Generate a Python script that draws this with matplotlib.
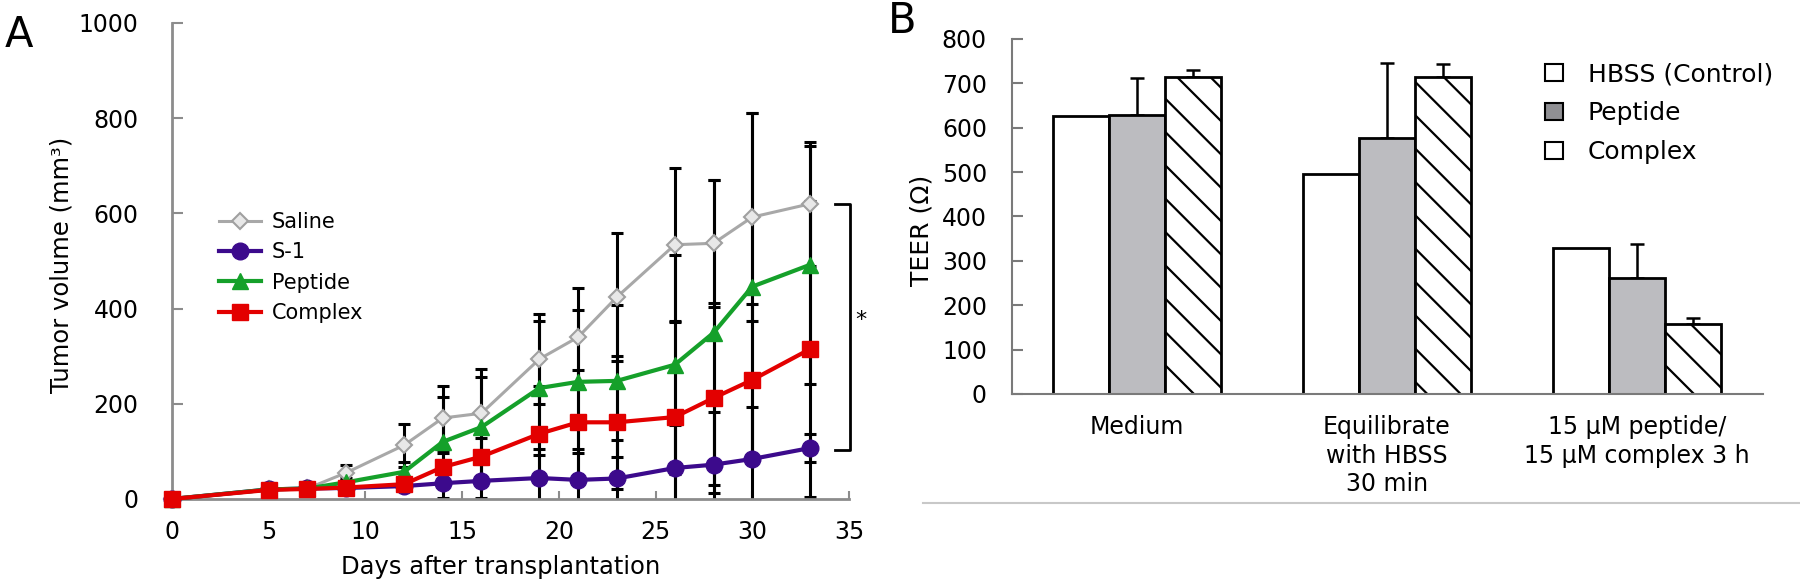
import numpy as np
import matplotlib as mpl
mpl.use('Agg')
import matplotlib.pyplot as plt
from matplotlib.lines import Line2D
from matplotlib.patches import Patch

plt.rcParams['font.family'] = ['DejaVu Sans']
plt.rcParams['hatch.linewidth'] = 1.6

# ---- panel A data: tumour volume (mm3) vs days
days = [0, 5, 7, 9, 12, 14, 16, 19, 21, 23, 26, 28, 30, 33]
saline = [0, 20, 22, 55, 113, 170, 180, 294, 340, 424, 534, 537, 592, 620]
saline_sd = [0, 3, 4, 16, 45, 67, 93, 95, 103, 135, 161, 133, 219, 130]
s1 = [0, 20, 22, 23, 27, 33, 38, 44, 40, 43, 65, 72, 84, 107]
s1_sd = [0, 2, 3, 4, 8, 30, 35, 60, 65, 80, 90, 110, 110, 30]
peptide = [0, 20, 22, 35, 57, 120, 151, 233, 246, 248, 282, 349, 446, 492]
peptide_sd = [0, 3, 4, 8, 20, 95, 105, 140, 150, 160, 230, 320, 365, 250]
complex_ = [0, 19, 21, 24, 31, 67, 89, 137, 161, 161, 172, 212, 250, 315]
complex_sd = [0, 3, 4, 6, 12, 30, 40, 100, 110, 140, 200, 200, 160, 310]

# ---- panel B data: TEER (ohm)
conditions = ['Medium', 'Equilibrate\nwith HBSS\n30 min',
              '15 \u00b5M peptide/\n15 \u00b5M complex 3 h']
teer_hbss = [626, 495, 328]
teer_peptide = [628, 577, 262]
teer_peptide_err = [83, 169, 75]
teer_complex = [714, 714, 158]
teer_complex_err = [16, 30, 13]

fig = plt.figure(figsize=(18, 5.87), dpi=100)

# ================= panel A
axA = fig.add_axes([0.0956, 0.150, 0.376, 0.811])
series = [
    ('Saline', saline, saline_sd, dict(color='#a8a8a8', lw=2.2, marker='D', ms=8,
                                       mfc='#e8e8e8', mec='#a0a0a0', mew=1.5)),
    ('S-1', s1, s1_sd, dict(color='#3c0a8c', lw=3, marker='o', ms=12,
                            mfc='#3c0a8c', mec='#3c0a8c')),
    ('Peptide', peptide, peptide_sd, dict(color='#15a02a', lw=3, marker='^', ms=12,
                                          mfc='#15a02a', mec='#15a02a')),
    ('Complex', complex_, complex_sd, dict(color='#e30000', lw=3, marker='s', ms=12,
                                           mfc='#e30000', mec='#e30000')),
]
for name, vals, sd, style in series:
    axA.errorbar(days, vals, yerr=sd, fmt='none', ecolor='k', elinewidth=2.2,
                 capsize=4, capthick=2.2, zorder=2)
for name, vals, sd, style in series:
    axA.plot(days, vals, label=name, zorder=3, clip_on=False, **style)

axA.set_xlim(0, 35)
axA.set_ylim(0, 1000)
axA.set_xticks(np.arange(0, 36, 5))
axA.set_yticks(np.arange(0, 1001, 200))
for s in ['top', 'right']:
    axA.spines[s].set_visible(False)
for s in ['left', 'bottom']:
    axA.spines[s].set_color('#8c8c8c')
    axA.spines[s].set_linewidth(2)
axA.tick_params(axis='y', direction='in', length=8, width=1.5, color='#8c8c8c',
                labelsize=17, pad=24)
axA.tick_params(axis='x', direction='in', length=6, width=1.5, color='#8c8c8c',
                labelsize=17, pad=15)
axA.set_xlabel('Days after transplantation', fontsize=17.5)
axA.xaxis.set_label_coords(0.486, -0.117)
axA.set_ylabel('Tumor volume (mm\u00b3)', fontsize=17.5)
axA.yaxis.set_label_coords(-0.145, 0.492)

axA.legend(loc='upper left', bbox_to_anchor=(0.07, 0.603), frameon=False,
           fontsize=15, handlelength=2.0, handletextpad=0.5, labelspacing=0.5,
           borderpad=0, borderaxespad=0)

# significance bracket
axA.plot([34.3, 35.05, 35.05, 34.3], [620, 620, 103, 103], color='k', lw=2,
         clip_on=False)
axA.text(35.6, 375, '*', fontsize=16, ha='center', va='center')

# ================= panel B
axB = fig.add_axes([0.5622, 0.3288, 0.4172, 0.6048])
x = np.arange(len(conditions))
w = 0.224
axB.bar(x - w, teer_hbss, w, color='white', edgecolor='k', lw=2, zorder=2)
axB.bar(x, teer_peptide, w, color='#bcbcc0', edgecolor='k', lw=2, zorder=2)
axB.bar(x + w, teer_complex, w, color='white', edgecolor='k', lw=2, hatch='\\',
        zorder=2)
axB.errorbar(x, teer_peptide, yerr=[np.zeros(3), teer_peptide_err], fmt='none',
             ecolor='k', elinewidth=1.8, capsize=5, capthick=1.8, zorder=1)
axB.errorbar(x + w, teer_complex, yerr=[np.zeros(3), teer_complex_err], fmt='none',
             ecolor='k', elinewidth=1.8, capsize=5, capthick=1.8, zorder=1)

axB.set_xlim(-0.5, 2.504)
axB.set_ylim(0, 800)
axB.set_yticks(np.arange(0, 801, 100))
axB.set_xticks(x)
axB.set_xticklabels(conditions, fontsize=17, linespacing=1.25)
for s in ['top', 'right']:
    axB.spines[s].set_visible(False)
for s in ['left', 'bottom']:
    axB.spines[s].set_color('#7a7a7a')
    axB.spines[s].set_linewidth(1.5)
axB.tick_params(axis='y', direction='in', length=8, width=1.5, color='#7a7a7a',
                labelsize=17, pad=18)
axB.tick_params(axis='x', length=0, pad=15)
axB.set_ylabel('TEER (\u03a9)', fontsize=18)
axB.yaxis.set_label_coords(-0.105, 0.462)

handles = [Patch(facecolor='white', edgecolor='k', lw=1.5),
           Patch(facecolor='#8f8f93', edgecolor='k', lw=1.5),
           Patch(facecolor='white', edgecolor='k', lw=1.5)]
axB.legend(handles, ['HBSS (Control)', 'Peptide', 'Complex'], loc='upper left',
           bbox_to_anchor=(0.71, 0.935), frameon=False, fontsize=18,
           handlelength=0.7, handleheight=0.7, handletextpad=1.0,
           labelspacing=0.6, borderpad=0, borderaxespad=0)

# panel letters and separator line
fig.text(5 / 1800, 1 - 35 / 587, 'A', fontsize=30, ha='left', va='center')
fig.text(888 / 1800, 1 - 21 / 587, 'B', fontsize=30, ha='left', va='center')
fig.add_artist(Line2D([923 / 1800, 1.0], [1 - 503 / 587] * 2, color='#c8c8c8',
                      lw=1.5))

fig.savefig('out.png', dpi=100)
